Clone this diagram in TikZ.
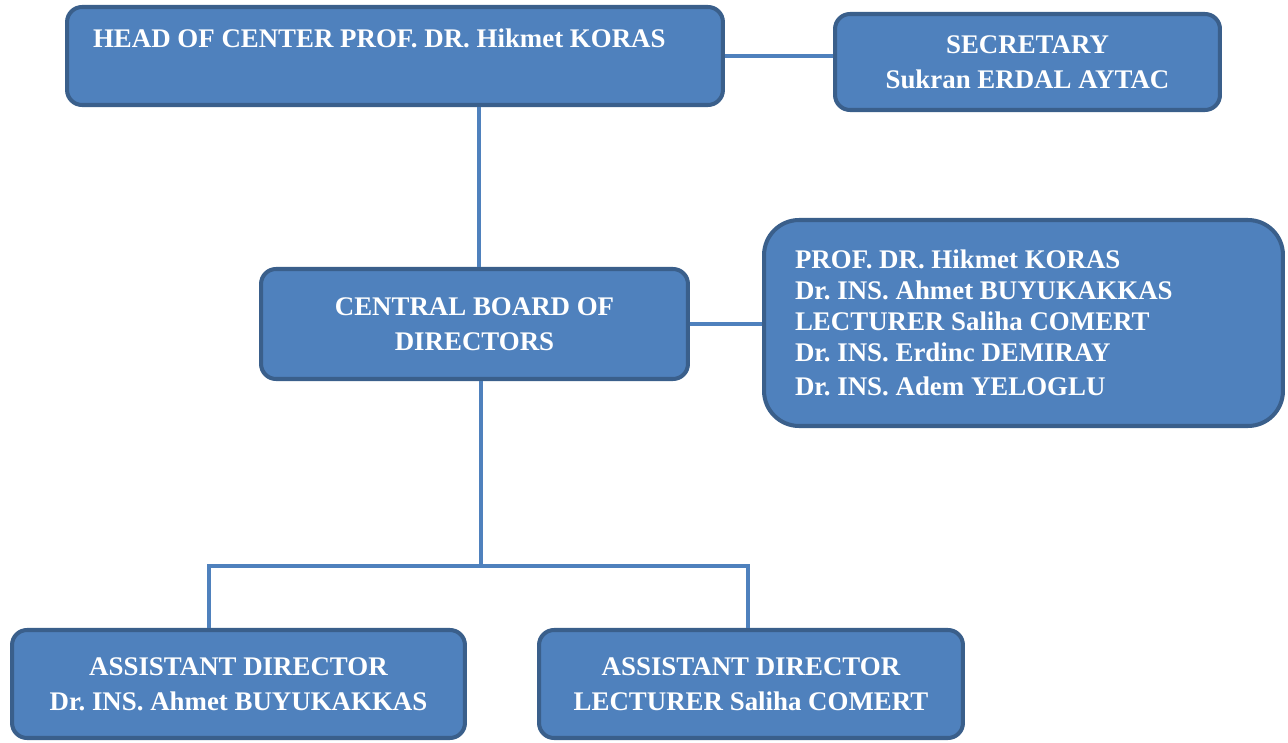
\documentclass[tikz,border=0pt]{standalone}
\usepackage{fontspec}
\setmainfont{Liberation Serif}
\definecolor{boxfill}{HTML}{4F81BD}
\definecolor{boxline}{HTML}{3A5F8B}
\begin{document}
\begin{tikzpicture}[x=0.02cm,y=-0.02cm,
    box/.style={fill=boxfill, draw=boxline, line width=2.3pt, rounded corners=0.3cm,
        text=white, font=\fontsize{15.3}{20}\selectfont\bfseries\frenchspacing, align=center},
    link/.style={draw=boxfill, line width=2.3pt}]
        \useasboundingbox (0,0) rectangle (1288,743);
        % блоки
        \node[box, minimum width=13.12cm, minimum height=1.96cm, align=flush left,
            text width=12.08cm, inner xsep=0.52cm] (head) at (395,56)
            {HEAD OF CENTER PROF. DR. Hikmet KORAS\\ \mbox{}};
        \node[box, minimum width=7.7cm, minimum height=1.92cm] (secretary) at (1027.5,62)
            {SECRETARY\\Sukran ERDAL AYTAC};
        \node[box, minimum width=8.54cm, minimum height=2.2cm] (board) at (474.5,324)
            {CENTRAL BOARD OF\\DIRECTORS};
        \node[box, minimum width=10.38cm, minimum height=4.12cm, rounded corners=0.7cm,
            align=flush left, text width=9.14cm, inner xsep=0.62cm,
            font=\fontsize{15.3}{17.6}\selectfont\bfseries\frenchspacing] (members) at (1023.5,323)
            {PROF. DR. Hikmet KORAS\\Dr. INS. Ahmet BUYUKAKKAS\\LECTURER Saliha COMERT\\
            Dr. INS. Erdinc DEMIRAY\\[2pt]Dr. INS. Adem YELOGLU};
        \node[box, minimum width=9.06cm, minimum height=2.16cm] (assistA) at (238.5,684)
            {ASSISTANT DIRECTOR\\Dr. INS. Ahmet BUYUKAKKAS};
        \node[box, minimum width=8.48cm, minimum height=2.16cm] (assistB) at (751,684)
            {ASSISTANT DIRECTOR\\LECTURER Saliha COMERT};

        % связи
        \coordinate (up) at (479,200);
        \coordinate (split) at (481,566);
        \coordinate (legA) at (209,566);
        \coordinate (legB) at (748,566);
        \draw[link] (head.east) -- (head.east -| secretary.west);
        \draw[link] (up |- board.north) -- (up |- head.south);
        \draw[link] (board.east) -- (board.east -| members.west);
        \draw[link] (board.south -| split) -- (split);
        \draw[link] (legA |- assistA.north) -- (legA) -- (legB) -- (legB |- assistB.north);
    \end{tikzpicture}
\end{document}
